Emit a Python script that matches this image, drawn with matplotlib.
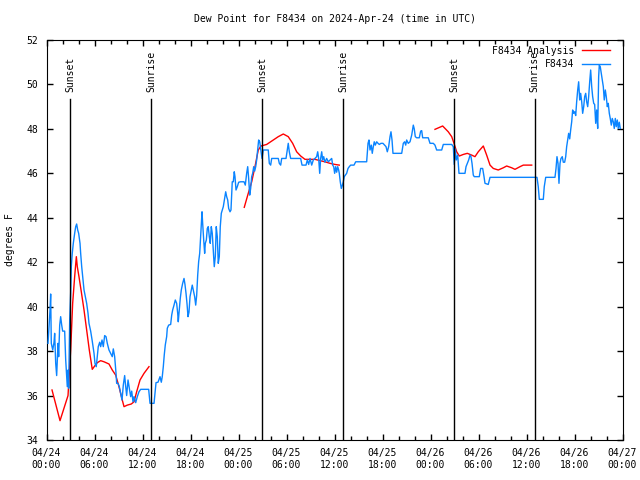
import numpy as np
import matplotlib
matplotlib.use("Agg")
import matplotlib.pyplot as plt
from matplotlib.ticker import MultipleLocator

plt.rcParams['font.family'] = ['DejaVu Sans Mono']
plt.rcParams['font.size'] = 7

# hours since 2024-04-24 00:00 UTC
obs_hours = [0.19, 0.44, 0.52, 0.6, 0.78, 0.94, 1.02, 1.15, 1.27, 1.44, 1.52, 1.65, 1.77, 1.9,
             2.02, 2.27, 2.4, 2.52, 2.6, 2.69, 2.77, 2.9, 3.02, 3.1, 3.22, 3.35, 3.52, 3.65, 3.77,
             3.9, 4.02, 4.19, 4.27, 4.4, 4.52, 4.69, 4.85, 5.02, 5.19, 5.31, 5.52, 5.72, 5.94,
             6.06, 6.22, 6.35, 6.47, 6.65, 6.77, 6.94, 7.1, 7.27, 7.44, 7.6, 7.81, 8.02, 8.22,
             8.35, 8.52, 8.69, 8.77, 8.94, 9.1, 9.27, 9.44, 9.6, 9.77, 9.9, 10.02, 10.19, 10.35,
             10.52, 10.65, 10.81, 10.94, 11.15, 11.35, 11.56, 11.77, 12.77, 12.94, 13.44, 13.52,
             13.69, 13.94, 14.19, 14.35, 14.47, 14.6, 14.72, 14.85, 15.02, 15.1, 15.27, 15.52,
             15.65, 15.77, 15.94, 16.1, 16.27, 16.4, 16.47, 16.6, 16.72, 16.85, 17.02, 17.19,
             17.31, 17.44, 17.56, 17.69, 17.81, 17.94, 18.1, 18.22, 18.35, 18.52, 18.65, 18.77,
             18.9, 19.02, 19.15, 19.22, 19.35, 19.44, 19.52, 19.65, 19.77, 19.85, 19.98, 20.1,
             20.22, 20.35, 20.47, 20.6, 20.72, 20.85, 20.97, 21.1, 21.22, 21.35, 21.47, 21.6,
             21.72, 21.85, 21.97, 22.1, 22.27, 22.4, 22.52, 22.65, 22.77, 22.94, 23.06, 23.22,
             23.35, 23.47, 23.56, 23.69, 23.85, 24.02, 24.27, 24.69, 24.85, 25.02, 25.15, 25.27,
             25.4, 25.52, 25.65, 25.77, 25.9, 26.02, 26.15, 26.27, 26.4, 26.52, 26.65, 26.77,
             26.94, 27.1, 27.72, 27.85, 28.02, 28.15, 28.97, 29.1, 29.27, 29.4, 29.94, 30.1,
             30.22, 30.35, 30.52, 31.77, 31.94, 32.44, 32.6, 32.77, 32.94, 33.15, 33.35, 33.56,
             33.77, 33.9, 34.02, 34.15, 34.27, 34.4, 34.52, 34.65, 34.81, 35.02, 35.22, 35.44,
             35.65, 35.77, 35.9, 36.02, 36.15, 36.27, 36.4, 36.52, 36.6, 36.72, 36.85, 36.97,
             37.1, 37.22, 37.52, 37.69, 37.85, 38.02, 38.44, 38.65, 40.02, 40.19, 40.31, 40.44,
             40.6, 40.72, 40.85, 40.97, 41.1, 41.27, 41.44, 41.6, 41.81, 42.06, 42.44, 42.6,
             42.77, 42.94, 43.06, 43.19, 43.31, 44.4, 44.6, 44.77, 44.9, 45.02, 45.22, 45.44,
             45.65, 45.85, 45.97, 46.1, 46.27, 46.6, 46.77, 46.9, 47.02, 47.72, 47.94, 48.35,
             48.56, 48.77, 49.4, 49.6, 50.65, 50.85, 50.97, 51.1, 51.22, 51.4, 51.56, 52.31,
             52.44, 52.6, 52.77, 52.94, 53.06, 53.19, 53.35, 53.47, 54.1, 54.27, 54.52, 54.69,
             54.81, 55.22, 55.44, 61.06, 61.31, 61.47, 61.6, 62.1, 62.22, 62.4, 63.56, 63.69,
             63.81, 63.94, 64.06, 64.19, 64.31, 64.47, 64.6, 64.77, 64.9, 65.02, 65.15, 65.27,
             65.4, 65.52, 65.65, 65.77, 65.9, 66.02, 66.15, 66.27, 66.4, 66.52, 66.65, 66.77,
             66.9, 67.02, 67.15, 67.27, 67.4, 67.52, 67.65, 67.77, 67.9, 68.02, 68.15, 68.27,
             68.4, 68.52, 68.65, 68.77, 68.9, 69.02, 69.1, 69.22, 69.35, 69.47, 69.6, 69.72,
             69.85, 69.97, 70.1, 70.22, 70.35, 70.47, 70.6, 70.72, 70.85, 70.97, 71.1, 71.22,
             71.35, 71.47, 71.6, 71.72]
obs_dewpt = [38.35, 39.85, 40.57, 38.35, 38.05, 38.4, 38.8, 37.45, 36.9, 38.35, 37.75, 39.17,
             39.55, 39.17, 38.9, 38.9, 37.6, 36.9, 36.4, 37.15, 36.33, 39.4, 40.6, 41.8, 42.4,
             42.85, 43.3, 43.6, 43.72, 43.45, 43.3, 42.85, 42.4, 41.8, 41.35, 40.75, 40.45, 40.15,
             39.7, 39.25, 38.9, 38.45, 37.9, 37.45, 37.3, 37.75, 38.2, 38.4, 38.2, 38.5, 38.2,
             38.7, 38.65, 38.35, 38.05, 37.9, 37.75, 38.1, 37.75, 37.0, 36.55, 36.55, 36.4, 36.1,
             35.8, 36.47, 36.9, 36.4, 36.0, 36.7, 36.33, 35.95, 36.2, 35.72, 35.95, 35.68, 35.95,
             36.17, 36.28, 36.28, 35.65, 35.65, 35.95, 36.58, 36.6, 36.85, 36.6, 36.85, 37.3,
             37.83, 38.28, 38.65, 39.03, 39.17, 39.2, 39.62, 39.85, 40.07, 40.3, 40.15, 39.7,
             39.32, 39.85, 40.37, 40.75, 41.05, 41.27, 41.0, 40.6, 40.15, 39.55, 39.75, 40.45,
             40.75, 40.97, 40.75, 40.45, 40.07, 40.5, 41.42, 42.03, 42.4, 42.85, 43.75, 44.27,
             43.75, 43.0, 42.4, 42.85, 43.0, 43.52, 43.6, 43.15, 42.85, 43.6, 43.3, 42.55, 41.8,
             42.25, 43.6, 43.15, 41.95, 42.25, 43.6, 44.2, 44.35, 44.5, 44.87, 45.17, 44.95, 44.8,
             44.42, 44.27, 44.35, 45.62, 45.62, 46.07, 45.85, 45.25, 45.4, 45.6, 45.62, 45.62,
             45.47, 46.0, 46.3, 45.77, 45.02, 45.32, 45.85, 46.0, 46.3, 46.1, 46.3, 46.6, 47.05,
             47.5, 47.42, 47.12, 46.67, 47.05, 47.05, 46.45, 46.37, 46.67, 46.67, 46.45, 46.37,
             46.67, 46.67, 47.05, 47.35, 46.97, 46.67, 46.67, 46.37, 46.37, 46.6, 46.4, 46.67,
             46.37, 46.6, 46.67, 46.75, 46.97, 46.67, 46.0, 46.67, 46.97, 46.6, 46.75, 46.5,
             46.67, 46.52, 46.6, 46.67, 46.37, 46.3, 46.0, 46.3, 46.05, 46.3, 46.15, 46.0, 45.62,
             45.32, 45.45, 45.62, 45.85, 46.0, 46.22, 46.3, 46.37, 46.37, 46.52, 46.52, 47.35,
             47.5, 47.05, 47.27, 46.9, 47.2, 47.42, 47.27, 47.42, 47.35, 47.3, 47.35, 47.35,
             47.2, 46.97, 47.2, 47.65, 47.87, 47.5, 46.9, 46.9, 47.35, 47.42, 47.27, 47.5, 47.35,
             47.42, 47.72, 48.17, 48.0, 47.65, 47.6, 47.6, 47.9, 47.92, 47.6, 47.6, 47.35, 47.35,
             47.27, 47.05, 47.05, 47.3, 47.3, 47.2, 46.4, 47.1, 46.6, 46.82, 46.0, 46.0, 46.3,
             46.45, 46.6, 46.82, 46.75, 46.45, 45.92, 45.85, 45.85, 46.22, 46.22, 45.85, 45.55,
             45.5, 45.82, 45.82, 45.82, 45.4, 44.83, 44.83, 45.4, 45.82, 45.82, 46.22, 46.75,
             46.45, 45.55, 46.45, 46.67, 46.75, 46.5, 46.5, 46.75, 47.2, 47.5, 47.8, 47.55, 47.95,
             48.32, 48.85, 48.7, 48.77, 48.6, 49.22, 49.75, 50.12, 49.3, 49.6, 49.22, 48.7, 49.0,
             49.45, 49.6, 49.22, 49.0, 49.45, 50.12, 50.65, 49.9, 49.45, 49.15, 49.1, 48.25,
             48.85, 48.02, 50.35, 50.87, 50.8, 50.5, 50.2, 49.9, 49.3, 49.75, 49.45, 49.0, 49.15,
             48.7, 48.47, 48.17, 48.47, 48.32, 48.02, 48.47, 48.1, 48.4, 48.02, 48.3, 48.02]

# analysis runs in three separate blocks (NaN breaks the line)
ana_hours = [0.69, 1.69, 2.69, 3.02, 3.27, 3.52, 3.73, 3.85, 4.06, 4.35, 4.69, 5.02, 5.35, 5.72,
             6.02, 6.35, 6.77, 7.19, 7.81, 8.22, 8.65, 9.06, 9.47, 9.69, 10.1, 10.6, 10.94,
             11.27, 11.69, 12.19, 12.81, 18.0,
             24.72, 25.22, 25.65, 26.06, 26.47, 26.81, 27.52, 28.35, 28.97, 29.6, 30.22, 30.77,
             31.27, 31.77, 32.31, 32.94, 33.56, 34.19, 34.81, 35.44, 36.06, 36.6, 42.0,
             48.56, 49.52, 50.22, 50.65, 50.94, 51.27, 51.6, 52.1, 52.6, 53.15, 53.56, 53.97,
             54.6, 55.02, 55.44, 55.85, 56.47, 57.1, 57.52, 58.15, 58.56, 59.19, 59.6, 60.65]
ana_dewpt = [36.25, 34.87, 36.0, 38.05, 40.15, 41.35, 42.25, 41.8, 41.35, 40.67, 39.85, 38.95,
             38.05, 37.18, 37.33, 37.48, 37.57, 37.52, 37.42, 37.15, 36.92, 36.4, 35.8, 35.5,
             35.57, 35.62, 35.72, 36.17, 36.7, 37.0, 37.3, np.nan,
             44.47, 45.1, 45.62, 46.3, 47.05, 47.23, 47.3, 47.5, 47.65, 47.77, 47.65, 47.35,
             46.97, 46.78, 46.63, 46.63, 46.63, 46.57, 46.52, 46.45, 46.4, 46.37, np.nan,
             47.98, 48.13, 47.87, 47.65, 47.35, 46.97, 46.78, 46.85, 46.9, 46.82, 46.75, 46.97,
             47.23, 46.82, 46.37, 46.22, 46.15, 46.25, 46.33, 46.25, 46.18, 46.3, 46.37, 46.37]

sun_hours = [2.98, 13.08, 26.98, 37.1, 50.98, 61.0]
sun_labels = ['Sunset', 'Sunrise', 'Sunset', 'Sunrise', 'Sunset', 'Sunrise']

tick_hours = list(range(0, 73, 6))
tick_days = ['04/24'] * 4 + ['04/25'] * 4 + ['04/26'] * 4 + ['04/27']
tick_times = ['00:00', '06:00', '12:00', '18:00'] * 3 + ['00:00']

fig = plt.figure(figsize=(6.4, 4.8), dpi=100)
ax = fig.add_axes([46.5 / 640, 40 / 480, 576 / 640, 400 / 480])

ax.plot(obs_hours, obs_dewpt, color='#0a84ff', lw=1, label='F8434', zorder=3)
ax.plot(ana_hours, ana_dewpt, color='#ff0000', lw=1, label='F8434 Analysis', zorder=2)

for h, lab in zip(sun_hours, sun_labels):
    ax.axvline(h, ymin=0, ymax=0.8525, color='black', lw=1, zorder=4)
    ax.text(h, 0.87, lab, transform=ax.get_xaxis_transform(), rotation=90,
            ha='center', va='bottom', fontsize=7)

ax.set_xlim(0, 72)
ax.set_ylim(34, 52)
ax.set_xticks(tick_hours)
ax.set_xticklabels([d + '\n' + t for d, t in zip(tick_days, tick_times)])
ax.xaxis.set_minor_locator(MultipleLocator(2))
ax.yaxis.set_major_locator(MultipleLocator(2))
ax.tick_params(which='both', direction='in', top=True, right=True, width=1)
ax.tick_params(which='major', length=4, pad=6)
ax.tick_params(which='minor', length=3)
ax.set_ylabel('degrees F')
ax.yaxis.set_label_coords(-0.054, 0.5)

fig.text(334.5 / 640, 1 - 19 / 480, 'Dew Point for F8434 on 2024-Apr-24 (time in UTC)',
         ha='center', va='center', fontsize=7)

handles, labels = ax.get_legend_handles_labels()
ax.legend(handles[::-1], labels[::-1], loc='upper right', bbox_to_anchor=(0.988, 1.0),
          frameon=False, markerfirst=False, handlelength=2.9, handletextpad=0.8,
          labelspacing=0.35, borderaxespad=0.2, fontsize=7)

fig.savefig('out.png', dpi=100)
